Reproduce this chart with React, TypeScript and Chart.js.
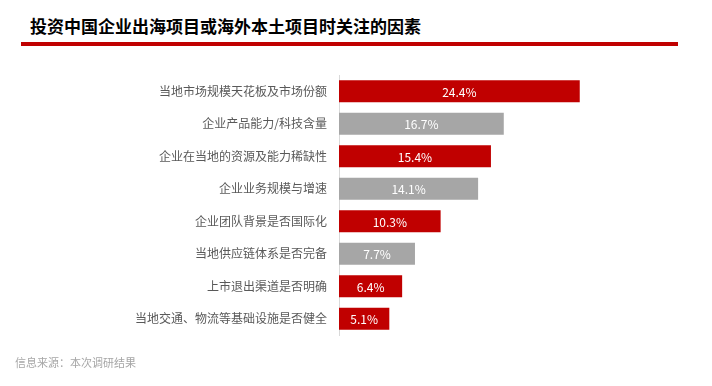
import React, { useEffect, useRef } from "react";
import { Chart, registerables } from "chart.js";

Chart.register(...registerables);

const categories = [
  "当地市场规模天花板及市场份额",
  "企业产品能力/科技含量",
  "企业在当地的资源及能力稀缺性",
  "企业业务规模与增速",
  "企业团队背景是否国际化",
  "当地供应链体系是否完备",
  "上市退出渠道是否明确",
  "当地交通、物流等基础设施是否健全",
];
const values = [24.4, 16.7, 15.4, 14.1, 10.3, 7.7, 6.4, 5.1];
const barColors = ["#C00000", "#A6A6A6", "#C00000", "#A6A6A6", "#C00000", "#A6A6A6", "#C00000", "#C00000"];
const titleText = "投资中国企业出海项目或海外本土项目时关注的因素";
const sourceText = "信息来源：本次调研结果";

const FONT = "'Noto Sans CJK SC', 'Noto Sans', sans-serif";

const valueLabelPlugin = {
  id: "valueLabels",
  afterDatasetsDraw(chart: any) {
    const ctx = chart.ctx;
    const meta = chart.getDatasetMeta(0);
    ctx.save();
    ctx.fillStyle = "#FFFFFF";
    ctx.font = `12px ${FONT}`;
    ctx.textAlign = "center";
    ctx.textBaseline = "middle";
    meta.data.forEach((bar: any, i: number) => {
      const cx = (bar.x + bar.base) / 2;
      ctx.fillText(values[i].toFixed(1) + "%", cx, bar.y + 1);
    });
    ctx.restore();
  },
};

export default function App() {
  const canvasRef = useRef<HTMLCanvasElement | null>(null);

  useEffect(() => {
    if (!canvasRef.current) return;
    const chart = new Chart(canvasRef.current, {
      type: "bar",
      data: {
        labels: categories,
        datasets: [
          {
            data: values,
            backgroundColor: barColors,
            borderWidth: 0,
            categoryPercentage: 1,
            barPercentage: 0.68,
          },
        ],
      },
      options: {
        indexAxis: "y",
        animation: false,
        responsive: false,
        maintainAspectRatio: false,
        layout: { padding: { top: 75, bottom: 51, left: 0, right: 77 } },
        plugins: {
          legend: { display: false },
          tooltip: { enabled: false },
        },
        scales: {
          x: {
            display: false,
            min: 0,
            max: 30,
          },
          y: {
            afterFit(scale: any) {
              scale.width = 339;
            },
            grid: { display: false, drawTicks: false },
            border: { display: true, color: "#D9D9D9", width: 1 },
            ticks: {
              color: "#595959",
              font: { size: 12, family: FONT },
              padding: 12,
            },
          },
        },
      },
      plugins: [valueLabelPlugin],
    });
    return () => chart.destroy();
  }, []);

  return (
    <div
      style={{
        position: "fixed",
        left: 0,
        top: 0,
        width: 712,
        height: 386,
        background: "#FFFFFF",
        overflow: "hidden",
      }}
    >
      <div
        style={{
          position: "absolute",
          left: 30,
          top: 14,
          fontFamily: FONT,
          fontWeight: 700,
          fontSize: 17,
          lineHeight: "24px",
          color: "#000000",
          whiteSpace: "nowrap",
        }}
      >
        {titleText}
      </div>
      <div
        style={{
          position: "absolute",
          left: 21,
          top: 42,
          width: 657,
          height: 4,
          background: "#C00000",
        }}
      />
      <canvas
        ref={canvasRef}
        width={712}
        height={386}
        style={{ position: "absolute", left: 0, top: 0, width: 712, height: 386 }}
      />
      <div
        style={{
          position: "absolute",
          left: 15,
          top: 353,
          fontFamily: FONT,
          fontSize: 11,
          lineHeight: "18px",
          color: "#A6A6A6",
          whiteSpace: "nowrap",
        }}
      >
        {sourceText}
      </div>
    </div>
  );
}
